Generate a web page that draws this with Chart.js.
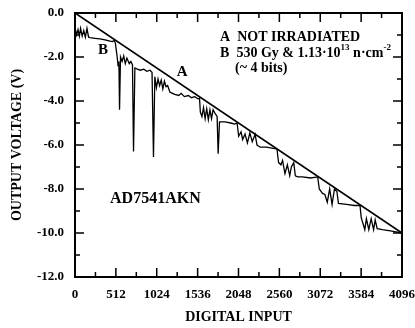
<!DOCTYPE html>
<html>
<head>
<meta charset="utf-8">
<script src="https://cdn.jsdelivr.net/npm/chart.js"></script>
<style>
  body { margin: 0; background: #fff; }
</style>
</head>
<body>
<canvas id="myChart" width="415" height="328"></canvas>
<script>
// curve A: ideal (not irradiated) transfer line
const codesA = [0, 4096];
const voltsA = [0, -10];

// curve B: after 530 Gy & 1.13e13 n/cm2
const codesB = [
    0, 20, 38, 55, 70, 90, 110, 130, 150, 170, 190,
    250, 313, 376, 440, 470, 490, 505,
    525, 540, 550, 558, 562, 570, 590, 610, 630, 650, 680, 700, 720, 733, 737,
    750, 780, 820, 860, 900, 940, 965, 983, 987,
    1000, 1020, 1040, 1060, 1080, 1100, 1120, 1140, 1160, 1190,
    1250, 1300, 1330, 1370, 1420, 1460, 1500, 1540, 1560,
    1570, 1590, 1610, 1630, 1650, 1670, 1690, 1710, 1730, 1760, 1780, 1793, 1797,
    1810, 1880, 1950, 2000, 2030,
    2050, 2080, 2100, 2130, 2160, 2190, 2220, 2256, 2280,
    2320, 2400, 2480, 2530,
    2550, 2580, 2600, 2630, 2660, 2690, 2710, 2740, 2760, 2790,
    2850, 2950, 3040,
    3060, 3100, 3130, 3160, 3190, 3220, 3250, 3280, 3300,
    3400, 3500, 3570,
    3585, 3610, 3630, 3650, 3680, 3710, 3740, 3760, 3785,
    3850, 3950, 4020, 4096
];
const voltsB = [
    -0.65, -1.0, -0.75, -1.05, -0.7, -1.05, -0.8, -1.1, -0.7, -1.1, -1.12,
    -1.15, -1.18, -1.22, -1.28, -1.3, -1.25, -1.35,
    -1.9, -2.4, -2.2, -4.4, -4.4, -2.0, -2.2, -1.95, -2.3, -2.05, -2.3, -2.2, -2.35, -6.3, -6.3,
    -2.5, -2.55, -2.6, -2.55, -2.65, -2.6, -2.7, -6.55, -6.55,
    -2.9, -3.4, -3.0, -3.3, -3.05, -3.45, -3.1, -3.35, -3.3, -3.6,
    -3.7, -3.75, -3.65, -3.8, -3.75, -3.85, -3.8, -3.9, -3.88,
    -4.5, -4.7, -4.3, -4.8, -4.35, -4.85, -4.4, -4.8, -4.4, -4.6, -4.7, -6.4, -6.4,
    -4.95, -4.95, -5.0, -5.05, -5.0,
    -5.6, -5.4, -5.75, -5.5, -5.9, -5.45, -5.85, -5.52, -6.0,
    -6.1, -6.1, -6.15, -6.18,
    -6.8, -6.9, -6.7, -7.3, -6.9, -7.4, -7.0, -6.8, -7.4, -7.45,
    -7.45, -7.5, -7.45,
    -8.0, -8.2, -8.25, -8.6, -8.0, -8.7, -8.0, -8.1, -8.65,
    -8.7, -8.75, -8.75,
    -9.3, -9.6, -9.85, -9.35, -9.85, -9.35, -9.85, -9.4, -9.8,
    -9.85, -9.9, -9.95, -10.0
];

const xMajor = 512;
const yMajor = 2;
const serif = "'Liberation Serif', 'Times New Roman', serif";

const toPoints = (xs, ys) => xs.map((v, i) => ({ x: v, y: ys[i] }));

// box frame, inward ticks on all four sides and the text labels
const framePlugin = {
    id: 'framePlugin',
    afterDraw(chart) {
        const { ctx, chartArea: a, scales: { x, y } } = chart;
        ctx.save();
        ctx.strokeStyle = '#000';
        ctx.lineWidth = 1.5;
        ctx.beginPath();
        x.ticks.forEach(t => {
            const px = x.getPixelForValue(t.value);
            const len = t.value % xMajor === 0 ? 9 : 5;
            ctx.moveTo(px, a.bottom); ctx.lineTo(px, a.bottom - len);
            ctx.moveTo(px, a.top); ctx.lineTo(px, a.top + len);
        });
        y.ticks.forEach(t => {
            const py = y.getPixelForValue(t.value);
            const len = t.value % yMajor === 0 ? 9 : 5;
            ctx.moveTo(a.left, py); ctx.lineTo(a.left + len, py);
            ctx.moveTo(a.right, py); ctx.lineTo(a.right - len, py);
        });
        ctx.stroke();
        ctx.lineWidth = 2;
        ctx.strokeRect(a.left, a.top, a.right - a.left, a.bottom - a.top);

        ctx.fillStyle = '#000';
        ctx.textBaseline = 'middle';
        ctx.textAlign = 'left';
        const big = 'bold 14px ' + serif;
        const sup = 'bold 9px ' + serif;

        // legend lines
        let px = x.getPixelForValue(1817);
        ctx.font = big;
        ctx.fillText('A  NOT IRRADIATED', px, y.getPixelForValue(-1.09));

        let py = y.getPixelForValue(-1.82);
        const pieces = [
            ['B  530 Gy & 1.13\u00b710', big, 0],
            ['13', sup, -5],
            [' n\u00b7cm', big, 0],
            ['-2', sup, -5]
        ];
        pieces.forEach(([txt, f, dy]) => {
            ctx.font = f;
            ctx.fillText(txt, px, py + dy);
            px += ctx.measureText(txt).width;
        });

        ctx.font = big;
        ctx.fillText('(~ 4 bits)', x.getPixelForValue(2005), y.getPixelForValue(-2.5));

        ctx.font = 'bold 16px ' + serif;
        ctx.fillText('AD7541AKN', x.getPixelForValue(439), y.getPixelForValue(-8.45));

        ctx.textAlign = 'center';
        ctx.font = 'bold 15px ' + serif;
        ctx.fillText('A', x.getPixelForValue(1341), y.getPixelForValue(-2.68));
        ctx.fillText('B', x.getPixelForValue(351), y.getPixelForValue(-1.68));
        ctx.restore();
    }
};

new Chart(document.getElementById('myChart'), {
    type: 'scatter',
    data: {
        datasets: [
            {
                label: 'A',
                data: toPoints(codesA, voltsA),
                showLine: true,
                borderColor: '#000',
                borderWidth: 1.7,
                pointRadius: 0
            },
            {
                label: 'B',
                data: toPoints(codesB, voltsB),
                showLine: true,
                borderColor: '#000',
                borderWidth: 1.3,
                pointRadius: 0
            }
        ]
    },
    options: {
        responsive: false,
        animation: false,
        devicePixelRatio: 1,
        layout: { padding: { top: 13, right: 13, left: 0, bottom: 0 } },
        plugins: {
            legend: { display: false },
            tooltip: { enabled: false }
        },
        scales: {
            x: {
                type: 'linear',
                min: 0,
                max: 4096,
                grid: { display: false, drawTicks: false },
                border: { display: false },
                ticks: {
                    stepSize: 256,
                    autoSkip: false,
                    maxRotation: 0,
                    padding: 10,
                    color: '#000',
                    font: { family: serif, size: 13, weight: 'bold' },
                    callback: v => (v % xMajor === 0 ? String(v) : '')
                },
                title: {
                    display: true,
                    text: 'DIGITAL INPUT',
                    color: '#000',
                    font: { family: serif, size: 14, weight: 'bold' },
                    padding: { top: 0, bottom: 2 }
                },
                afterFit: scale => {
                    scale.height = 51;
                    scale.paddingLeft = 0;
                    scale.paddingRight = 0;
                }
            },
            y: {
                min: -12,
                max: 0,
                grid: { display: false, drawTicks: false },
                border: { display: false },
                ticks: {
                    stepSize: 1,
                    autoSkip: false,
                    padding: 11,
                    color: '#000',
                    font: { family: serif, size: 13, weight: 'bold' },
                    callback: v => (v % yMajor === 0 ? v.toFixed(1) : '')
                },
                title: {
                    display: true,
                    text: 'OUTPUT VOLTAGE (V)',
                    color: '#000',
                    font: { family: serif, size: 14, weight: 'bold' },
                    padding: { top: 9, bottom: 0 }
                },
                afterFit: scale => {
                    scale.width = 75;
                    scale.paddingTop = 0;
                    scale.paddingBottom = 0;
                }
            }
        }
    },
    plugins: [framePlugin]
});
</script>
</body>
</html>
